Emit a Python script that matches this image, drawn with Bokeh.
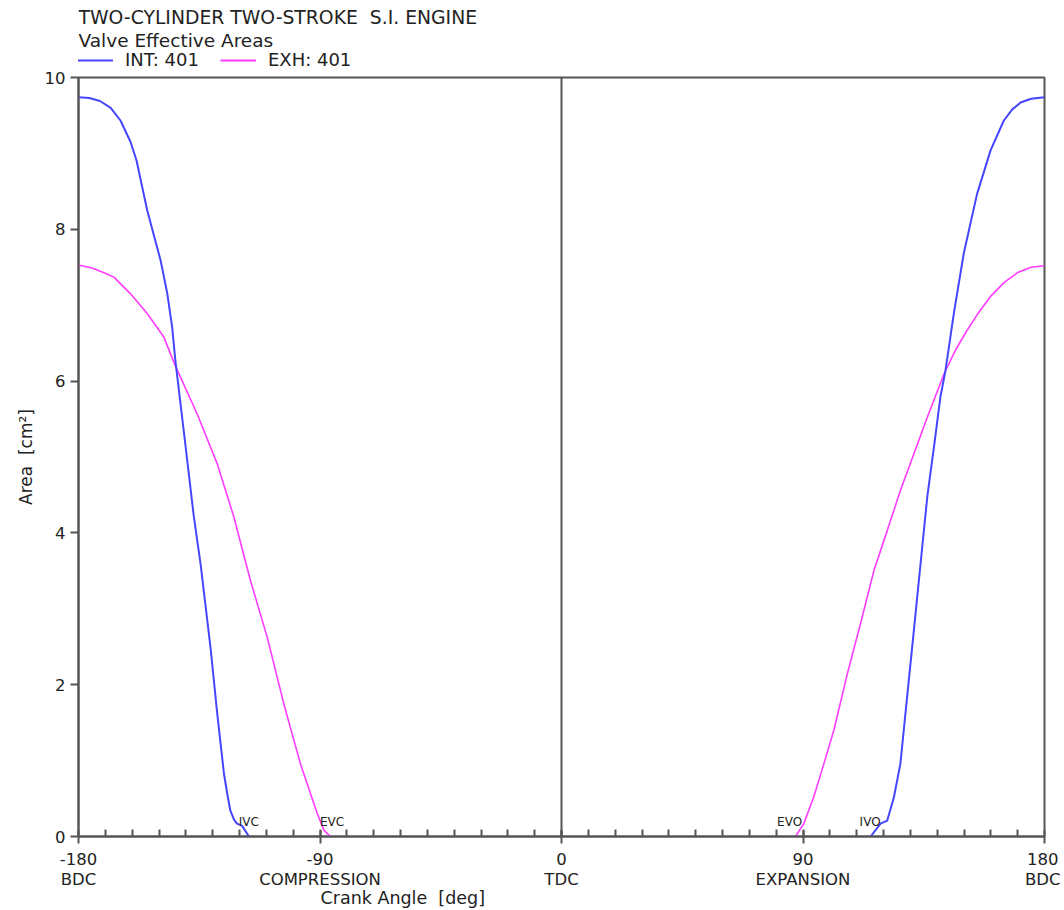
import numpy as np
from bokeh.plotting import figure
from bokeh.layouts import column
from bokeh.models import Range1d, FixedTicker, Span, Title, Legend, LegendItem, Label
from bokeh.core.properties import value
from bokeh.embed import file_html
from bokeh.resources import INLINE

# ---------------- data ----------------
NB = "\u00a0"
TITLE = "TWO-CYLINDER TWO-STROKE " + NB + "S.I. ENGINE"
SUBTITLE = "Valve Effective Areas"
SERIES_NAMES = ["INT: 401", "EXH: 401"]
X_LABEL = "Crank Angle " + NB + "[deg]"
Y_LABEL = "Area " + NB + "[cm\u00b2]"

# intake valve, closing side (BDC -> IVC)
INT_CLOSE_DEG = [-180, -176, -172, -168, -164.3, -160.6, -158.4, -154.4, -149.4, -146.9,
                 -145.1, -143.9, -140.8, -137.0, -134.5, -130.8, -128.3, -125.8, -124.5,
                 -123.4, -122.0, -120.9, -119.0, -116.5]
INT_CLOSE_AREA = [9.74, 9.73, 9.69, 9.60, 9.43, 9.15, 8.91, 8.25, 7.59, 7.15,
                  6.71, 6.27, 5.35, 4.21, 3.59, 2.49, 1.62, 0.83, 0.55,
                  0.34, 0.22, 0.17, 0.14, 0.0]
# intake valve, opening side (IVO -> BDC)
INT_OPEN_DEG = [115.2, 118.9, 121.4, 123.9, 126.3, 128.8, 131.3, 133.8, 136.3, 138.8,
                141.2, 143.1, 146.2, 149.9, 154.9, 159.9, 164.8, 168.0, 171.1, 175, 180]
INT_OPEN_AREA = [0.0, 0.17, 0.21, 0.52, 0.96, 1.84, 2.71, 3.59, 4.47, 5.13,
                 5.79, 6.14, 6.89, 7.68, 8.47, 9.04, 9.43, 9.58, 9.67, 9.72, 9.74]

# exhaust valve, closing side (BDC -> EVC)
EXH_CLOSE_DEG = [-180, -175, -170, -166.8, -160.6, -154.4, -148.2, -143.9, -135.8, -128.3,
                 -122.1, -115.9, -109.7, -103.5, -97.3, -91.0, -88.5, -86.1]
EXH_CLOSE_AREA = [7.53, 7.49, 7.42, 7.37, 7.15, 6.89, 6.58, 6.20, 5.57, 4.91,
                  4.21, 3.37, 2.63, 1.75, 0.96, 0.30, 0.08, 0.0]
# exhaust valve, opening side (EVO -> BDC)
EXH_OPEN_DEG = [87.2, 90.3, 94.0, 97.8, 101.5, 106.5, 111.4, 116.4, 121.4, 126.3,
                131.3, 136.3, 142.5, 147.0, 151.0, 155.0, 160.0, 165.0, 170.0, 175, 180]
EXH_OPEN_AREA = [0.0, 0.17, 0.52, 0.96, 1.40, 2.14, 2.80, 3.50, 4.03, 4.56,
                 5.04, 5.52, 6.09, 6.42, 6.66, 6.88, 7.12, 7.30, 7.43, 7.50, 7.52]

EVENT_NAMES = ["IVC", "EVC", "EVO", "IVO"]
EVENT_DEG = [-116.5, -85.5, 85.0, 115.0]

X_TICKS = [-180, -90, 0, 90, 180]
X_TICK_LABELS = ["-180\nBDC", "-90\nCOMPRESSION", "0\nTDC", "90\nEXPANSION", "180\nBDC"]
X_MINOR = list(range(-170, 180, 10))
Y_TICKS = [0, 2, 4, 6, 8, 10]

# ---------------- style ----------------
FONT = "DejaVu Sans"
AXIS_COLOR = "#555555"
TEXT_COLOR = "#222222"
INT_COLOR = "#4646ff"
EXH_COLOR = "#ff3cff"
W = 1060
HEAD_H = 70
MAIN_H = 840

# ---------- header: titles + legend (frame aligned with main plot frame) ----------
h = figure(width=W, height=HEAD_H, x_range=Range1d(0, 1), y_range=Range1d(0, 1),
           x_axis_type=None, y_axis_type=None, min_border=0,
           output_backend="svg", toolbar_location=None)
h.title.visible = False
h.outline_line_color = None
h.background_fill_color = "white"
h.border_fill_color = "white"

h.add_layout(Label(x=0, y=HEAD_H - 17, x_units="screen", y_units="screen", text=TITLE,
                   text_font=FONT, text_font_size="18.8px", text_color=TEXT_COLOR,
                   text_baseline="middle"))
h.add_layout(Label(x=0, y=HEAD_H - 40, x_units="screen", y_units="screen", text=SUBTITLE,
                   text_font=FONT, text_font_size="18.5px", text_color=TEXT_COLOR,
                   text_baseline="middle"))

# legend sample renderers (kept outside the header's visible range)
d_int = h.line(x=[-5, -4], y=[-5, -4], line_color=INT_COLOR, line_width=2)
d_exh = h.line(x=[-5, -4], y=[-5, -4], line_color=EXH_COLOR, line_width=2)
legend = Legend(items=[LegendItem(label=SERIES_NAMES[0], renderers=[d_int]),
                       LegendItem(label=SERIES_NAMES[1], renderers=[d_exh])],
                orientation="horizontal", location=(-1, 0),
                margin=0, padding=0, spacing=21, glyph_width=36, glyph_height=14,
                label_height=14, label_standoff=12, border_line_color=None,
                background_fill_alpha=0,
                label_text_font=FONT, label_text_font_size="18px",
                label_text_color=TEXT_COLOR)
h.add_layout(legend, "center")

# ---------- main plot ----------
p = figure(width=W, height=MAIN_H,
           x_range=Range1d(-180, 180), y_range=Range1d(0, 10),
           output_backend="svg", toolbar_location=None,
           min_border_left=78, min_border_right=16,
           min_border_top=7, min_border_bottom=74)
p.title.visible = False
p.xgrid.visible = False
p.ygrid.visible = False
p.background_fill_color = "white"
p.border_fill_color = "white"
p.outline_line_color = AXIS_COLOR
p.outline_line_width = 2

nan = [np.nan]
int_x = INT_CLOSE_DEG + nan + INT_OPEN_DEG
int_y = INT_CLOSE_AREA + nan + INT_OPEN_AREA
exh_x = EXH_CLOSE_DEG + nan + EXH_OPEN_DEG
exh_y = EXH_CLOSE_AREA + nan + EXH_OPEN_AREA

p.add_layout(Span(location=0, dimension="height", line_color=AXIS_COLOR, line_width=2))

p.line(exh_x, exh_y, line_color=EXH_COLOR, line_width=1.6)
p.line(int_x, int_y, line_color=INT_COLOR, line_width=2)

p.text(x=EVENT_DEG, y=[0] * len(EVENT_DEG), text=EVENT_NAMES,
       text_font=value(FONT), text_font_size="12px", text_color=TEXT_COLOR,
       text_align="center", text_baseline="alphabetic", y_offset=-15)

xa = p.xaxis[0]
xa.ticker = FixedTicker(ticks=X_TICKS, minor_ticks=X_MINOR)
xa.major_label_overrides = dict(zip(X_TICKS, X_TICK_LABELS))
xa.axis_line_color = AXIS_COLOR
xa.axis_line_width = 2
xa.major_tick_line_color = AXIS_COLOR
xa.major_tick_line_width = 2
xa.major_tick_in = 6
xa.major_tick_out = 7
xa.minor_tick_line_color = AXIS_COLOR
xa.minor_tick_line_width = 2
xa.minor_tick_in = 7
xa.minor_tick_out = 0
xa.major_label_text_font = FONT
xa.major_label_text_font_size = "16.5px"
xa.major_label_text_color = TEXT_COLOR
xa.major_label_text_line_height = 1.1
xa.major_label_standoff = 6

ya = p.yaxis[0]
ya.ticker = FixedTicker(ticks=Y_TICKS, minor_ticks=[])
ya.axis_line_color = AXIS_COLOR
ya.axis_line_width = 2
ya.major_tick_line_color = AXIS_COLOR
ya.major_tick_line_width = 2
ya.major_tick_in = 0
ya.major_tick_out = 8
ya.major_label_text_font = FONT
ya.major_label_text_font_size = "16.5px"
ya.major_label_text_color = TEXT_COLOR
ya.major_label_standoff = 5
ya.axis_label = Y_LABEL
ya.axis_label_text_font = FONT
ya.axis_label_text_font_size = "17px"
ya.axis_label_text_font_style = "normal"
ya.axis_label_text_color = TEXT_COLOR
ya.axis_label_standoff = 6

x_title = Title(text=X_LABEL, align="left", vertical_align="top", offset=242, standoff=0,
                text_font=FONT, text_font_size="17.5px", text_font_style="normal",
                text_line_height=1.0, text_color=TEXT_COLOR)
try:
    x_title.standoff = -10
except Exception:
    x_title.standoff = 0
p.add_layout(x_title, "below")

layout = column(h, p, spacing=0)
open("out.html", "w").write(file_html(layout, INLINE))
